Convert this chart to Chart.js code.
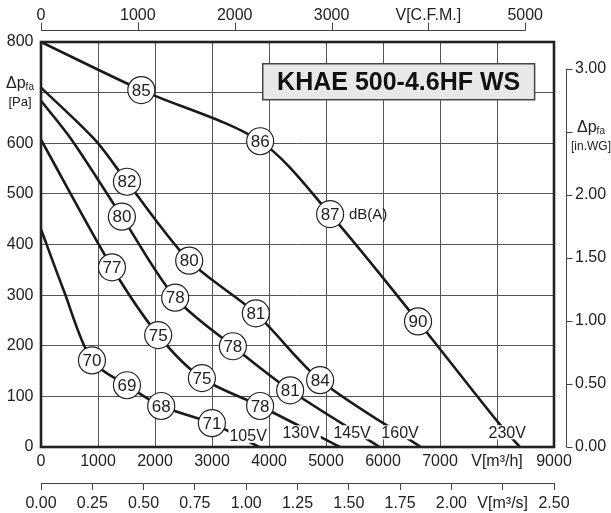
<!DOCTYPE html>
<html>
<head>
<meta charset="utf-8">
<script src="https://cdn.jsdelivr.net/npm/chart.js@4.4.1/dist/chart.umd.min.js"></script>
<style>
  html, body { margin: 0; padding: 0; background: #fff; }
  canvas { display: block; }
</style>
</head>
<body>
<canvas id="fanChart" width="611" height="513"></canvas>
<script>
// fan curves: airflow in m3/h, static pressure in Pa
var flow105 = [0, 396, 894, 1508, 2109, 2998, 3830];
var pres105 = [430, 310, 171, 122, 81, 47, 0];

var flow130 = [0, 1245, 2056, 2823, 3844, 5247];
var pres130 = [607, 355, 221, 136, 81, 0];

var flow145 = [0, 543, 1419, 2354, 3366, 4371, 5941];
var pres145 = [684, 606, 455, 295, 199, 112, 0];

var flow160 = [0, 952, 1508, 2600, 3769, 4897, 6664];
var pres160 = [710, 606, 524, 368, 264, 132, 0];

var flow230 = [0, 1760, 3845, 5072, 6615, 8017, 8403];
var pres230 = [800, 705, 604, 460, 248, 49, 0];

// sound level markers
var dbFlow  = [1760, 3845, 5072, 6615, 1508, 2600, 3769, 4897, 1419, 2354, 3366, 4371, 1245, 2056, 2823, 3844, 894, 1508, 2109, 2998];
var dbPres  = [705, 604, 460, 248, 524, 368, 264, 132, 455, 295, 199, 112, 355, 221, 136, 81, 171, 122, 81, 47];
var dbValue = ['85', '86', '87', '90', '82', '80', '81', '84', '80', '78', '78', '81', '77', '75', '75', '78', '70', '69', '68', '71'];

// voltage labels
var voltText = ['105V', '130V', '145V', '160V', '230V'];
var voltFlow = [3634, 4563, 5458, 6299, 8180];
var voltPres = [22, 29, 29, 29, 29];

// top axis ticks in C.F.M.
var cfmTicks = [0, 1000, 2000, 3000, 4000, 5000];

var M3H_PER_CFM = 1.69901;
var PA_PER_INWG = 249.089;

var FONT = '"Liberation Sans", Arial, Helvetica, sans-serif';
var INK = '#222';

function pts(fx, py) {
    return fx.map(function(v, i) { return { x: v, y: py[i] }; });
}

function curve(fx, py) {
    return {
        type: 'line',
        data: pts(fx, py),
        borderColor: '#1a1a1a',
        borderWidth: 2.6,
        pointRadius: 0,
        tension: 0.3,
        fill: false,
        order: 1
    };
}

function dp(ctx, cx, cy, unit, unitSize) {
    ctx.font = '16px ' + FONT;
    var w1 = ctx.measureText('\u0394p').width;
    ctx.font = '10px ' + FONT;
    var w2 = ctx.measureText('fa').width;
    var x0 = cx - (w1 + w2) / 2;
    ctx.textAlign = 'left';
    ctx.textBaseline = 'middle';
    ctx.font = '16px ' + FONT;
    ctx.fillText('\u0394p', x0, cy);
    ctx.font = '10px ' + FONT;
    ctx.fillText('fa', x0 + w1, cy + 4);
    ctx.font = unitSize + 'px ' + FONT;
    ctx.textAlign = 'center';
    ctx.fillText(unit, cx, cy + 19);
}

var decor = {
    id: 'decor',
    afterDatasetsDraw: function(chart) {
        var ctx = chart.ctx, a = chart.chartArea, s = chart.scales;
        ctx.save();
        ctx.fillStyle = INK;

        // numbers in the circles
        var meta = chart.getDatasetMeta(5);
        ctx.font = '17px ' + FONT;
        ctx.textAlign = 'center';
        ctx.textBaseline = 'middle';
        meta.data.forEach(function(pt, i) {
            ctx.fillText(dbValue[i], pt.x, pt.y + 1);
        });

        // dB(A)
        ctx.font = '15px ' + FONT;
        ctx.fillText('dB(A)', s.x.getPixelForValue(5072) + 38, s.y.getPixelForValue(460) + 1);

        // voltage labels on white
        ctx.font = '16px ' + FONT;
        voltText.forEach(function(t, i) {
            var px = s.x.getPixelForValue(voltFlow[i]);
            var py = s.y.getPixelForValue(voltPres[i]);
            var w = ctx.measureText(t).width;
            ctx.fillStyle = '#fff';
            ctx.fillRect(px - w / 2 - 1, py - 7, w + 2, 14);
            ctx.fillStyle = INK;
            ctx.fillText(t, px, py + 1);
        });

        // title box
        var bx = s.x.getPixelForValue(3890), by = s.y.getPixelForValue(757);
        var bw = s.x.getPixelForValue(8660) - bx, bh = s.y.getPixelForValue(686) - by;
        ctx.fillStyle = '#e8e8e8';
        ctx.fillRect(bx, by, bw, bh);
        ctx.strokeStyle = '#444';
        ctx.lineWidth = 1.5;
        ctx.strokeRect(bx, by, bw, bh);
        ctx.fillStyle = '#111';
        ctx.font = 'bold 25px ' + FONT;
        ctx.fillText('KHAE 500-4.6HF WS', bx + bw / 2, by + bh / 2 + 1);

        // frame
        ctx.strokeStyle = INK;
        ctx.lineWidth = 2.6;
        ctx.strokeRect(a.left, a.top, a.right - a.left, a.bottom - a.top);

        // top C.F.M. axis line and ticks
        ctx.strokeStyle = '#444';
        ctx.lineWidth = 1;
        var ty = a.top - 11.5;
        ctx.beginPath();
        ctx.moveTo(s.x2.getPixelForValue(0), ty);
        ctx.lineTo(s.x2.getPixelForValue(5000), ty);
        s.x2.ticks.forEach(function(t) {
            var px = Math.round(s.x2.getPixelForValue(t.value)) + 0.5;
            ctx.moveTo(px, ty);
            ctx.lineTo(px, ty - 8);
        });
        ctx.stroke();

        // right in.WG axis line and ticks
        var rx = a.right + 12.5;
        ctx.beginPath();
        ctx.moveTo(rx, s.y2.getPixelForValue(0));
        ctx.lineTo(rx, s.y2.getPixelForValue(3));
        s.y2.ticks.forEach(function(t) {
            var py = Math.round(s.y2.getPixelForValue(t.value)) + 0.5;
            ctx.moveTo(rx, py);
            ctx.lineTo(rx + 6, py);
        });
        ctx.stroke();

        // axis names with subscript
        ctx.fillStyle = INK;
        dp(ctx, 20, s.y.getPixelForValue(700) - 9, '[Pa]', 13);
        dp(ctx, 591, s.y2.getPixelForValue(2.5) - 4, '[in.WG]', 12);
        ctx.restore();
    }
};

Chart.defaults.font.family = FONT;
Chart.defaults.font.size = 16;
Chart.defaults.color = INK;

new Chart(document.getElementById('fanChart'), {
    type: 'line',
    data: {
        datasets: [
            curve(flow105, pres105),
            curve(flow130, pres130),
            curve(flow145, pres145),
            curve(flow160, pres160),
            curve(flow230, pres230),
            {
                type: 'scatter',
                data: pts(dbFlow, dbPres),
                showLine: false,
                pointRadius: 13.5,
                pointBackgroundColor: '#fff',
                pointBorderColor: INK,
                pointBorderWidth: 1.2,
                order: 0
            }
        ]
    },
    options: {
        responsive: false,
        animation: false,
        events: [],
        layout: { padding: 0 },
        plugins: { legend: { display: false }, tooltip: { enabled: false } },
        scales: {
            x: {
                type: 'linear', position: 'bottom', min: 0, max: 9000, weight: 0,
                ticks: {
                    stepSize: 1000, padding: 5, maxRotation: 0, autoSkip: false,
                    callback: function(v) { return v === 8000 ? 'V[m\u00b3/h]' : String(v); }
                },
                grid: { color: '#555', lineWidth: 1, drawTicks: false },
                border: { display: false },
                afterFit: function(sc) { sc.height = 36; }
            },
            x3: {
                type: 'linear', position: 'bottom', min: 0, max: 2.5, weight: 1,
                ticks: {
                    stepSize: 0.25, padding: 4, maxRotation: 0, autoSkip: false,
                    callback: function(v) { return Math.abs(v - 2.25) < 1e-6 ? 'V[m\u00b3/s]' : v.toFixed(2); }
                },
                grid: { drawOnChartArea: false, drawTicks: true, tickLength: 7, color: '#444' },
                border: { display: true, color: '#444', width: 1 },
                afterFit: function(sc) { sc.height = 30; }
            },
            x2: {
                type: 'linear', position: 'top', min: 0, max: 9000 / M3H_PER_CFM,
                afterBuildTicks: function(sc) {
                    sc.ticks = cfmTicks.map(function(v) { return { value: v }; });
                },
                ticks: {
                    padding: 17, maxRotation: 0, autoSkip: false,
                    callback: function(v) { return v === 4000 ? 'V[C.F.M.]' : String(v); }
                },
                grid: { drawOnChartArea: false, drawTicks: false },
                border: { display: false },
                afterFit: function(sc) { sc.height = 42; }
            },
            y: {
                type: 'linear', position: 'left', min: 0, max: 800,
                ticks: {
                    stepSize: 100, padding: 7.5,
                    callback: function(v) { return v === 700 ? '' : String(v); }
                },
                grid: { color: '#555', lineWidth: 1, drawTicks: false },
                border: { display: false },
                afterFit: function(sc) { sc.width = 41; }
            },
            y2: {
                type: 'linear', position: 'right', min: 0, max: 800 / PA_PER_INWG,
                ticks: {
                    stepSize: 0.5, padding: 21, includeBounds: false,
                    callback: function(v) { return Math.abs(v - 2.5) < 1e-6 ? '' : v.toFixed(2); }
                },
                grid: { drawOnChartArea: false, drawTicks: false },
                border: { display: false },
                afterFit: function(sc) { sc.width = 57; }
            }
        }
    },
    plugins: [decor]
});
</script>
</body>
</html>
